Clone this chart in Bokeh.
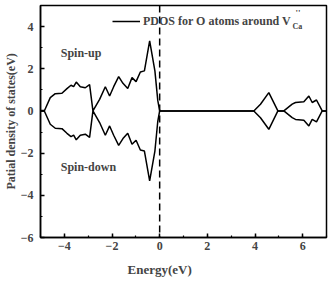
from bokeh.plotting import figure
from bokeh.models import (Span, Label, Legend, LegendItem, SingleIntervalTicker, Range1d, Title)
from bokeh.embed import file_html
from bokeh.resources import INLINE

energy = [-5.0, -4.84, -4.59, -4.38, -4.10, -3.89, -3.72, -3.61, -3.50, -3.33, -3.12, -2.94,
          -2.80, -2.52, -2.28, -2.10, -1.93, -1.72, -1.54, -1.34, -1.16, -0.99, -0.81, -0.64,
          -0.42, -0.20, -0.08, 0.0, 3.95, 4.23, 4.58, 4.96, 5.21, 5.56, 5.70, 6.05, 6.26,
          6.40, 6.58, 6.82, 7.0]
dos_up = [0.0, 0.0, 0.63, 0.82, 0.84, 1.06, 1.22, 1.15, 1.37, 1.15, 1.10, 1.25,
          0.0, 0.55, 1.15, 0.71, 1.15, 1.63, 1.31, 1.06, 1.58, 1.39, 1.85, 1.90,
          3.32, 1.90, 0.50, 0.0, 0.0, 0.32, 0.87, 0.0, 0.0, 0.32, 0.40, 0.44, 0.71,
          0.40, 0.52, 0.0, 0.0]
dos_down = [0.0, 0.0, -0.63, -0.82, -0.84, -1.06, -1.22, -1.15, -1.37, -1.15, -1.10, -1.25,
            0.0, -0.55, -1.15, -0.71, -1.15, -1.63, -1.31, -1.06, -1.58, -1.39, -1.85, -1.90,
            -3.32, -1.90, -0.50, 0.0, 0.0, -0.32, -0.87, 0.0, 0.0, -0.32, -0.40, -0.44, -0.71,
            -0.40, -0.52, 0.0, 0.0]

FONT = "Liberation Serif"

p = figure(width=332, height=283, output_backend="svg", toolbar_location=None,
           x_range=Range1d(-5, 7), y_range=Range1d(-6, 5),
           min_border_left=40, min_border_right=6, min_border_top=5, min_border_bottom=45)
p.grid.visible = False
p.background_fill_color = "white"
p.outline_line_color = "black"
p.outline_line_width = 1.5

up = p.line(energy, dos_up, line_color="black", line_width=1.5)
p.line(energy, dos_down, line_color="black", line_width=1.5)

p.add_layout(Span(location=0, dimension="height", line_color="black",
                  line_width=1.5, line_dash="7 4"))

for ax in (p.xaxis[0], p.yaxis[0]):
    ax.ticker = SingleIntervalTicker(interval=2, num_minor_ticks=2)
    ax.major_tick_in = 4
    ax.major_tick_out = 0
    ax.minor_tick_in = 2
    ax.minor_tick_out = 0
    ax.axis_line_width = 1.5
    ax.major_tick_line_width = 1.5
    ax.minor_tick_line_width = 1.2
    ax.major_label_text_font = FONT
    ax.major_label_text_font_style = "bold"
    ax.major_label_text_font_size = "12px"

p.xaxis.major_label_standoff = 4
p.yaxis.major_label_standoff = 7
p.yaxis.major_label_orientation = "horizontal"

# axis titles as offset titles
p.add_layout(Title(text="Energy(eV)", align="left", offset=87, standoff=14,
                   text_font=FONT, text_font_style="bold", text_font_size="13px"), "below")
p.add_layout(Title(text="Patial density of states(eV)", align="left", offset=48, standoff=0,
                   text_font=FONT, text_font_style="bold", text_font_size="12px"), "left")

legend = Legend(items=[LegendItem(label="PDOS for O atoms around V", renderers=[up])],
                location=(72, 206), padding=0, margin=0, spacing=0,
                border_line_color=None, background_fill_alpha=0,
                label_text_font=FONT, label_text_font_style="bold",
                label_text_font_size="12px", glyph_width=28, label_standoff=3)
p.add_layout(legend)

p.add_layout(Label(x=252, y=211, x_units="screen", y_units="screen", text="Ca",
                   text_font=FONT, text_font_style="bold", text_font_size="8px",
                   text_baseline="middle"))
p.add_layout(Label(x=255, y=225, x_units="screen", y_units="screen", text="''",
                   text_font=FONT, text_font_style="bold", text_font_size="9px",
                   text_baseline="middle"))

p.add_layout(Label(x=-4.15, y=2.75, text="Spin-up", text_font=FONT,
                   text_font_style="bold", text_font_size="12px", text_baseline="middle"))
p.add_layout(Label(x=-4.15, y=-2.65, text="Spin-down", text_font=FONT,
                   text_font_style="bold", text_font_size="12px", text_baseline="middle"))

open("out.html", "w").write(file_html(p, INLINE))
